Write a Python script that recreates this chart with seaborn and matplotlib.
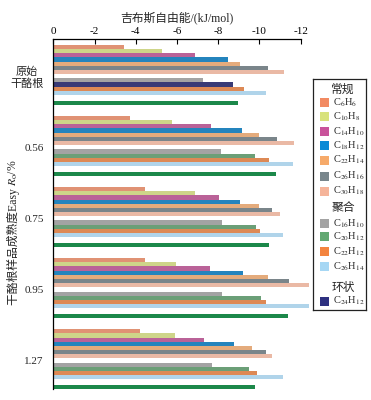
import numpy as np
import pandas as pd
import matplotlib
matplotlib.use("Agg")
import matplotlib.pyplot as plt
from matplotlib.patches import Rectangle
import seaborn as sns

# ---------------- data (kJ/mol, magnitudes) ----------------
groups = ["原始\n干酪根", "0.56", "0.75", "0.95", "1.27"]

# 常规
C6H6 = [3.45, 3.71, 4.45, 4.43, 4.19]
C10H8 = [5.29, 5.75, 6.88, 5.94, 5.89]
C14H10 = [6.86, 7.64, 8.03, 7.59, 7.33]
C18H12 = [8.45, 9.17, 9.08, 9.22, 8.77]
C22H14 = [9.05, 9.99, 9.97, 10.42, 9.65]
C26H16 = [10.40, 10.87, 10.60, 11.41, 10.31]
C30H18 = [11.18, 11.68, 11.00, 12.38, 10.62]
# 聚合
C16H10 = [7.25, 8.12, 8.17, 8.20, 7.69]
C20H12 = [np.nan, 9.79, 9.81, 10.08, 9.51]
C24H12_poly = [8.72, np.nan, np.nan, np.nan, np.nan]
C22H12 = [9.27, 10.44, 10.02, 10.34, 9.87]
C26H14 = [10.34, 11.65, 11.12, 12.40, 11.12]
# 单独的绿色条
green_bar = [8.95, 10.79, 10.46, 11.36, 9.76]

lbl = {
    "C6H6": "C$_{6}$H$_{6}$", "C10H8": "C$_{10}$H$_{8}$", "C14H10": "C$_{14}$H$_{10}$",
    "C18H12": "C$_{18}$H$_{12}$", "C22H14": "C$_{22}$H$_{14}$", "C26H16": "C$_{26}$H$_{16}$",
    "C30H18": "C$_{30}$H$_{18}$", "C16H10": "C$_{16}$H$_{10}$", "C20H12": "C$_{20}$H$_{12}$",
    "C22H12": "C$_{22}$H$_{12}$", "C26H14": "C$_{26}$H$_{14}$", "C24H12": "C$_{24}$H$_{12}$",
}
colors = {
    "C6H6": "#F28A62", "C10H8": "#D8E27C", "C14H10": "#C9539B", "C18H12": "#0B8AD6",
    "C22H14": "#F6AA6A", "C26H16": "#78868C", "C30H18": "#F5B49A",
    "C16H10": "#A3A3A3", "C20H12": "#62A872", "C22H12": "#F3843F", "C26H14": "#A6D7F4",
    "C24H12": "#2E3180", "green": "#0A9A48",
}

# slots within a group (layout)
series = [
    ("C6H6", C6H6, 0), ("C10H8", C10H8, 1), ("C14H10", C14H10, 2), ("C18H12", C18H12, 3),
    ("C22H14", C22H14, 4), ("C26H16", C26H16, 5), ("C30H18", C30H18, 6),
    ("C16H10", C16H10, 8), ("C20H12", C20H12, 9), ("C24H12", C24H12_poly, 9),
    ("C22H12", C22H12, 10), ("C26H14", C26H14, 11), ("green", green_bar, 13.35),
]
period = 17

rows = []
for g in range(len(groups)):
    for key, vals, slot in series:
        v = vals[g]
        if not np.isnan(v):
            rows.append({"pos": g * period + slot, "value": -v, "key": key})
df = pd.DataFrame(rows)

# ---------------- style ----------------
sns.set_style("white")
plt.rcParams["font.family"] = ["Liberation Serif", "Noto Sans CJK SC"]
plt.rcParams["mathtext.fontset"] = "stix"
plt.rcParams["axes.unicode_minus"] = False

fig = plt.figure(figsize=(3.71, 4.0), dpi=100)
ax = fig.add_axes([0.1437, 0.0275, 0.6668, 0.875])

sns.barplot(data=df, x="value", y="pos", hue="key", palette=colors, orient="h",
            native_scale=True, width=1.0, dodge=False, errorbar=None,
            legend=False, linewidth=0, ax=ax)
for p in ax.patches:
    p.set_clip_on(False)

ax.set_xlim(0, -12)
ax.set_ylim(81.8, -1.9)
xt = [0, -2, -4, -6, -8, -10, -12]
ax.set_xticks(xt)
ax.set_xticklabels([str(t) for t in xt], fontsize=8)
ax.xaxis.set_label_position("top")
ax.set_xlabel("吉布斯自由能/(kJ/mol)", fontsize=8.5, labelpad=4)
ax.tick_params(axis="x", top=True, bottom=False, labeltop=True, labelbottom=False,
               direction="in", length=3.5, width=0.8, pad=2, colors="black")
ax.set_yticks([g * period + 7 for g in range(len(groups))])
ax.set_yticklabels(groups, fontsize=8)
for t in ax.get_yticklabels():
    t.set_multialignment("center")
ax.tick_params(axis="y", left=False, length=0, pad=7)

# y label: CJK part as plain text, R_o/% appended as a rotated annotation
ax.set_ylabel("干酪根样品成熟度Easy ", fontsize=8.5)
ax.yaxis.set_label_coords(-0.135, 0.41)
ax.annotate("$R_{\\mathrm{o}}$/%", xy=(0.5, 1.0), xycoords=ax.yaxis.label,
            ha="center", va="bottom", rotation=90, fontsize=8.5)

for s in ["right", "bottom"]:
    ax.spines[s].set_visible(False)
for s in ["top", "left"]:
    ax.spines[s].set_color("black")
    ax.spines[s].set_linewidth(0.9)

# ---------------- legend (manual, in its own axes, pixel-like units) ----------------
lax = fig.add_axes([313 / 371, 1 - 310 / 400, 53 / 371, 231 / 400])
lax.set_xlim(0, 53)
lax.set_ylim(231, 0)
lax.set_xticks([])
lax.set_yticks([])
for s in lax.spines.values():
    s.set_color("#222222")
    s.set_linewidth(0.9)
lax.set_facecolor("white")

legend_layout = [
    ("常规", 11, [("C6H6", 23.7), ("C10H8", 37.7), ("C14H10", 52.5), ("C18H12", 66.7),
                 ("C22H14", 81.0), ("C26H16", 97.0), ("C30H18", 112.0)]),
    ("聚合", 129.3, [("C16H10", 144.3), ("C20H12", 157.7), ("C22H12", 172.7), ("C26H14", 187.7)]),
    ("环状", 209.3, [("C24H12", 222.0)]),
]
for head, hy, items in legend_layout:
    lax.text(30, hy, head, ha="center", va="center", fontsize=8.5)
    for key, y in items:
        lax.add_patch(Rectangle((7, y - 4.5), 9, 9, facecolor=colors[key], edgecolor="none"))
        lax.text(20, y, lbl[key], ha="left", va="center", fontsize=7.5)

fig.savefig("out.png", dpi=100)
